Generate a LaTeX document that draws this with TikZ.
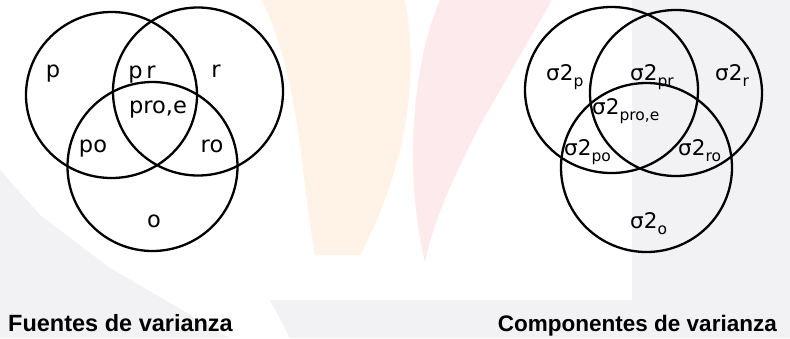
\documentclass[tikz,border=0pt]{standalone}
\usepackage{fontspec}
\setmainfont{Liberation Sans}
\newfontfamily\labfont{DejaVu Sans}
\definecolor{wmorange}{HTML}{FFF2E6}
\definecolor{wmpink}{HTML}{FCEAEC}
\definecolor{wmgrey}{HTML}{F2F2F5}
\newcommand{\vsig}[1]{σ2\raisebox{-6.5pt}{\fontsize{15.5}{15.5}\selectfont #1}}
\tikzset{
  ring/.style={line width=2.3pt, draw=black},
  lab/.style={inner sep=0pt, anchor=base, font=\labfont\fontsize{22.5}{22.5}\selectfont},
  slab/.style={inner sep=0pt, anchor=base west, font=\labfont\fontsize{21.5}{21.5}\selectfont},
  title/.style={inner sep=0pt, anchor=base, font=\bfseries\fontsize{23.5}{23.5}\selectfont}
}
\begin{document}
\begin{tikzpicture}[x=1pt,y=-1pt]
\useasboundingbox (0,0) rectangle (790,338);
\fill[white] (0,0) rectangle (790,338);
% faint watermark
\fill[wmgrey] (632,0) rectangle (790,338);
\fill[wmgrey] (0,170) -- (40,215) -- (110,268) -- (230,338) -- (0,338) -- cycle;
\fill[wmgrey] (270,300) -- (632,300) -- (632,338) -- (290,338) -- cycle;
\fill[wmorange] (262,0) -- (405,0) .. controls (420,80) and (405,170) .. (360,255) -- (315,255) .. controls (300,170) and (300,80) .. (262,0) -- cycle;
\fill[wmpink] (552,0) -- (480,125) .. controls (455,175) and (435,215) .. (425,262) .. controls (405,180) and (410,70) .. (440,0) -- cycle;
% left Venn
\draw[ring] (111.5,95) ellipse [x radius=85.5pt, y radius=83pt];
\draw[ring] (198,91.5) ellipse [x radius=85pt, y radius=84pt];
\draw[ring] (152.5,166.5) ellipse [x radius=85pt, y radius=84.5pt];
\node[lab] (lp) at (53,77) {p};
\node[lab] (lpr) at (142,78) {p\,r};
\node[lab] (lr) at (216,77) {r};
\node[lab] (lpro) at (158,113) {pro,e};
\node[lab] (lpo) at (93,152) {po};
\node[lab] (lro) at (212,152) {ro};
\node[lab] (lo) at (154,227) {o};
% right Venn
\draw[ring] (611.5,90) ellipse [x radius=86.5pt, y radius=83pt];
\draw[ring] (676,93) ellipse [x radius=86pt, y radius=83pt];
\draw[ring] (646.5,167.5) ellipse [x radius=85.5pt, y radius=84.5pt];
\node[slab] (sp) at (546,80) {\vsig{p}};
\node[slab] (spr) at (630,80) {\vsig{pr}};
\node[slab] (sr) at (715,80) {\vsig{r}};
\node[slab] (spro) at (592,114) {\vsig{pro,e}};
\node[slab] (spo) at (564,155) {\vsig{po}};
\node[slab] (sro) at (678,155) {\vsig{ro}};
\node[slab] (so) at (630,228) {\vsig{o}};
% titles
\node[title, anchor=base west] (t1) at (8,331) {Fuentes de varianza};
\node[title, anchor=base east, font=\bfseries\fontsize{22.5}{22.5}\selectfont] (t2) at (777,331) {Componentes de varianza};
\end{tikzpicture}
\end{document}
